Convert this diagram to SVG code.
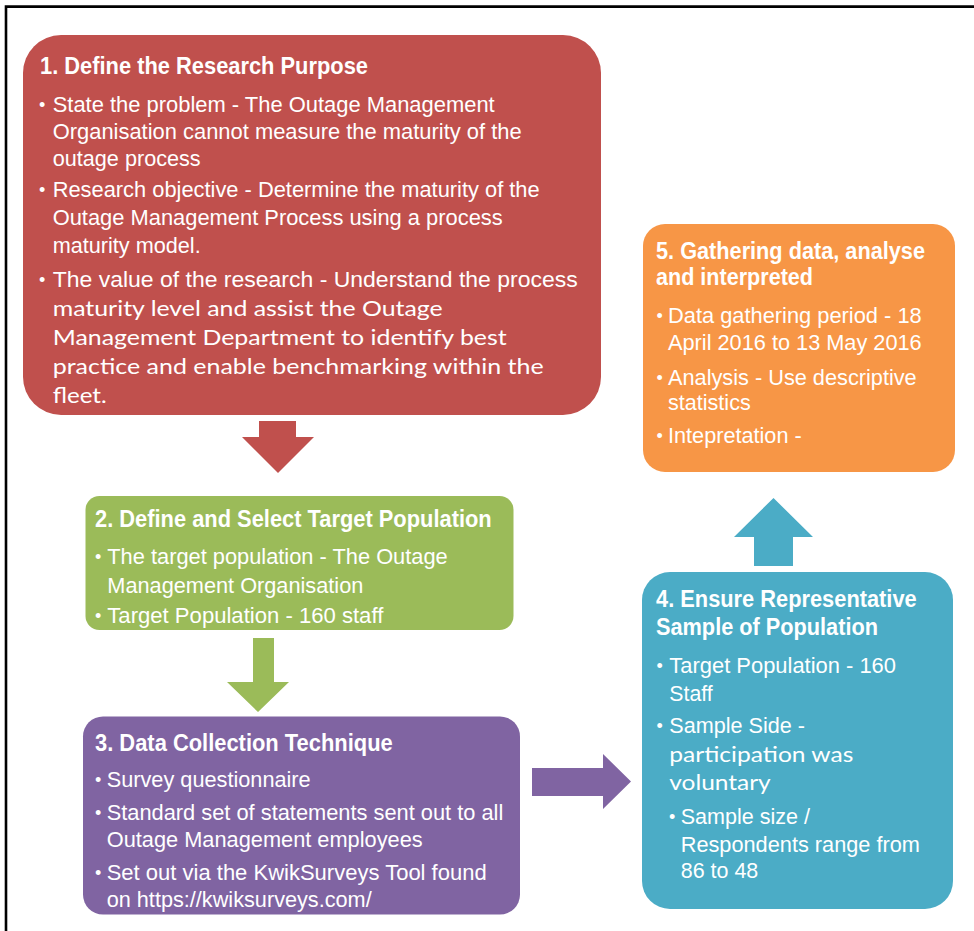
<svg xmlns="http://www.w3.org/2000/svg" width="974" height="931" viewBox="0 0 974 931">
  <style>
    .frame { fill: none; stroke: #000; stroke-width: 2.6; }
    .t { font-family: "Liberation Sans Narrow", "Liberation Sans", Arial, sans-serif; font-size: 23px; font-weight: bold; fill: #fff; }
    .b { font-family: "Liberation Sans Narrow", "Liberation Sans", Arial, sans-serif; font-size: 22.5px; fill: #fff; }
    .c { font-family: Lato, "Open Sans", sans-serif; font-size: 21px; fill: #fff; }
    .dot { font-family: "Liberation Sans", Arial, sans-serif; font-size: 18px; fill: #fff; }
    .red { fill: #C0504D; }
    .green { fill: #9BBB59; }
    .purple { fill: #8064A2; }
    .teal { fill: #4BACC6; }
    .orange { fill: #F79646; }
  </style>

  <rect width="974" height="931" fill="#fff"/>
  <path class="frame" d="M6 931 V6.6 H974"/>

  <!-- Step 1 -->
  <g id="step1">
    <rect class="red" x="23" y="35" width="578" height="380" rx="38"/>
    <text class="t" x="40" y="73.5" textLength="328" lengthAdjust="spacingAndGlyphs">1. Define the Research Purpose</text>
    <text class="dot" x="39" y="110.7">•</text>
    <text class="dot" x="39" y="195.7">•</text>
    <text class="dot" x="39" y="285.7">•</text>
    <text class="b" x="52.7" y="111.7" textLength="442" lengthAdjust="spacingAndGlyphs">State the problem - The Outage Management</text>
    <text class="b" x="52.7" y="138.5" textLength="469" lengthAdjust="spacingAndGlyphs">Organisation cannot measure the maturity of the</text>
    <text class="b" x="52.7" y="166" textLength="148" lengthAdjust="spacingAndGlyphs">outage process</text>
    <text class="b" x="52.7" y="196.7" textLength="487" lengthAdjust="spacingAndGlyphs">Research objective - Determine the maturity of the</text>
    <text class="b" x="52.7" y="225" textLength="450" lengthAdjust="spacingAndGlyphs">Outage Management Process using a process</text>
    <text class="b" x="52.7" y="253" textLength="148" lengthAdjust="spacingAndGlyphs">maturity model.</text>
    <text class="b" x="52.7" y="286.7" textLength="525" lengthAdjust="spacingAndGlyphs">The value of the research - Understand the process</text>
    <text class="c" x="52.7" y="315.5" textLength="390" lengthAdjust="spacingAndGlyphs">maturity level and assist the Outage</text>
    <text class="c" x="52.7" y="344.5" textLength="454" lengthAdjust="spacingAndGlyphs">Management Department to identify best</text>
    <text class="c" x="52.7" y="373.5" textLength="491" lengthAdjust="spacingAndGlyphs">practice and enable benchmarking within the</text>
    <text class="c" x="52.7" y="402.7" textLength="54" lengthAdjust="spacingAndGlyphs">fleet.</text>
  </g>

  <!-- Step 2 -->
  <g id="step2">
    <rect class="green" x="85.5" y="496" width="428" height="134" rx="14"/>
    <text class="t" x="95" y="526.7" textLength="396.7" lengthAdjust="spacingAndGlyphs">2. Define and Select Target Population</text>
    <text class="dot" x="95" y="563">•</text>
    <text class="dot" x="95" y="622.3">•</text>
    <text class="b" x="107.3" y="564" textLength="340.4" lengthAdjust="spacingAndGlyphs">The target population - The Outage</text>
    <text class="b" x="107.3" y="592.7" textLength="256" lengthAdjust="spacingAndGlyphs">Management Organisation</text>
    <text class="b" x="107.3" y="623.3" textLength="276" lengthAdjust="spacingAndGlyphs">Target Population - 160 staff</text>
  </g>

  <!-- Step 3 -->
  <g id="step3">
    <rect class="purple" x="83" y="716.5" width="437" height="198" rx="20"/>
    <text class="t" x="95" y="750.7" textLength="297.7" lengthAdjust="spacingAndGlyphs">3. Data Collection Technique</text>
    <text class="dot" x="95" y="786.3">•</text>
    <text class="dot" x="95" y="819">•</text>
    <text class="dot" x="95" y="879">•</text>
    <text class="b" x="106.7" y="787.3" textLength="204" lengthAdjust="spacingAndGlyphs">Survey questionnaire</text>
    <text class="b" x="106.7" y="820" textLength="396.6" lengthAdjust="spacingAndGlyphs">Standard set of statements sent out to all</text>
    <text class="b" x="106.7" y="846.7" textLength="316" lengthAdjust="spacingAndGlyphs">Outage Management employees</text>
    <text class="b" x="106.7" y="880" textLength="380" lengthAdjust="spacingAndGlyphs">Set out via the KwikSurveys Tool found</text>
    <text class="b" x="106.7" y="906.7" textLength="265" lengthAdjust="spacingAndGlyphs">on https://kwiksurveys.com/</text>
  </g>

  <!-- Step 4 -->
  <g id="step4">
    <rect class="teal" x="642" y="572" width="311" height="337" rx="28"/>
    <text class="t" x="656" y="607.3" textLength="260.7" lengthAdjust="spacingAndGlyphs">4. Ensure Representative</text>
    <text class="t" x="656" y="635" textLength="222" lengthAdjust="spacingAndGlyphs">Sample of Population</text>
    <text class="dot" x="656.5" y="672.3">•</text>
    <text class="dot" x="656.5" y="732.3">•</text>
    <text class="dot" x="669" y="823">•</text>
    <text class="b" x="669.3" y="673.3" textLength="226.7" lengthAdjust="spacingAndGlyphs">Target Population - 160</text>
    <text class="b" x="669.3" y="700.7" textLength="43.4" lengthAdjust="spacingAndGlyphs">Staff</text>
    <text class="b" x="669.3" y="733.3" textLength="135.7" lengthAdjust="spacingAndGlyphs">Sample Side -</text>
    <text class="c" x="669.3" y="761.7" textLength="184" lengthAdjust="spacingAndGlyphs">participation was</text>
    <text class="c" x="669.3" y="790" textLength="101.4" lengthAdjust="spacingAndGlyphs">voluntary</text>
    <text class="b" x="680.7" y="824" textLength="129.3" lengthAdjust="spacingAndGlyphs">Sample size /</text>
    <text class="b" x="680.7" y="851.7" textLength="239.3" lengthAdjust="spacingAndGlyphs">Respondents range from</text>
    <text class="b" x="680.7" y="878.3" textLength="77.6" lengthAdjust="spacingAndGlyphs">86 to 48</text>
  </g>

  <!-- Step 5 -->
  <g id="step5">
    <rect class="orange" x="643" y="224" width="312" height="248" rx="22"/>
    <text class="t" x="656" y="259.3" textLength="269" lengthAdjust="spacingAndGlyphs">5. Gathering data, analyse</text>
    <text class="t" x="656" y="285" textLength="157" lengthAdjust="spacingAndGlyphs">and interpreted</text>
    <text class="dot" x="656.5" y="322.3">•</text>
    <text class="dot" x="656.5" y="384">•</text>
    <text class="dot" x="656.5" y="442.3">•</text>
    <text class="b" x="668" y="323.3" textLength="253.7" lengthAdjust="spacingAndGlyphs">Data gathering period - 18</text>
    <text class="b" x="668" y="350" textLength="253.7" lengthAdjust="spacingAndGlyphs">April 2016 to 13 May 2016</text>
    <text class="b" x="668" y="385" textLength="248.7" lengthAdjust="spacingAndGlyphs">Analysis - Use descriptive</text>
    <text class="b" x="668" y="410" textLength="82.7" lengthAdjust="spacingAndGlyphs">statistics</text>
    <text class="b" x="668" y="443.3" textLength="133.7" lengthAdjust="spacingAndGlyphs">Intepretation -</text>
  </g>

  <!-- Block arrows between steps -->
  <g id="connectors">
    <polygon class="red" points="259,421 296,421 296,437 314,437 278,473 242,437 259,437"/>
    <polygon class="green" points="253,638 274,638 274,682 289,682 258,712 227,682 253,682"/>
    <polygon class="purple" points="532,768 603,768 603,754 631,781.5 603,809 603,796 532,796"/>
    <polygon class="teal" points="773.5,498 813,537 793,537 793,566 754,566 754,537 734,537"/>
  </g>
</svg>
